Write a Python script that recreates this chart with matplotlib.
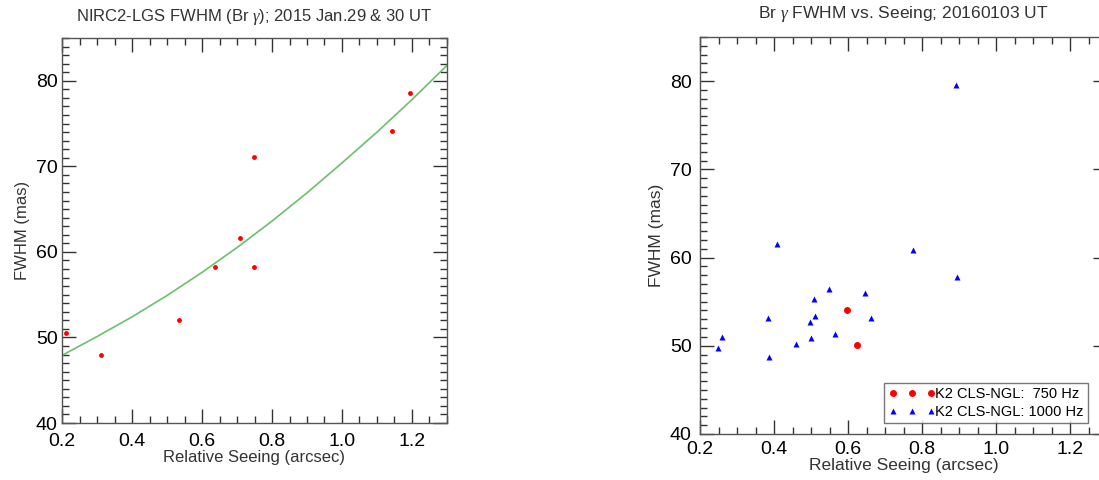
import matplotlib
matplotlib.use("Agg")
import matplotlib.pyplot as plt
from matplotlib.ticker import MultipleLocator, FormatStrFormatter

plt.rcParams['font.family'] = ['Liberation Sans', 'DejaVu Sans']
plt.rcParams['mathtext.fontset'] = 'custom'
plt.rcParams['mathtext.it'] = 'Liberation Serif:italic'

# left panel: 2015 Jan 29 & 30
seeing_2015 = [0.211, 0.312, 0.533, 0.638, 0.708, 0.748, 0.748, 1.143, 1.193]
fwhm_2015 = [50.5, 47.9, 52.0, 58.2, 61.6, 71.1, 58.2, 74.1, 78.6]
# fitted curve
fit_x = [0.2, 0.3, 0.4, 0.5, 0.6, 0.7, 0.8, 0.9, 1.0, 1.1, 1.2, 1.3]
fit_y = [47.9, 50.1, 52.4, 54.9, 57.6, 60.5, 63.6, 66.9, 70.4, 74.0, 77.8, 81.8]

# right panel: 20160103
seeing_750 = [0.597, 0.624]
fwhm_750 = [54.1, 50.1]
seeing_1000 = [0.248, 0.259, 0.385, 0.386, 0.407, 0.460, 0.497, 0.499, 0.508,
               0.511, 0.549, 0.566, 0.647, 0.662, 0.777, 0.891, 0.895]
fwhm_1000 = [49.8, 51.0, 53.1, 48.7, 61.5, 50.2, 52.7, 50.9, 55.3,
             53.4, 56.4, 51.3, 56.0, 53.1, 60.8, 79.6, 57.8]

W, H = 1099, 480
fig = plt.figure(figsize=(W / 100, H / 100), dpi=100)
ax1 = fig.add_axes([62 / W, 1 - 423 / H, 385 / W, 385 / H])
ax2 = fig.add_axes([700 / W, 1 - 434 / H, 407 / W, 397 / H])


def style(ax, fs, lfs, xpad, ypad):
    ax.set_xlim(0.2, 1.3)
    ax.set_ylim(40, 85)
    ax.xaxis.set_major_locator(MultipleLocator(0.2))
    ax.xaxis.set_major_formatter(FormatStrFormatter('%.1f'))
    ax.yaxis.set_major_locator(MultipleLocator(10))
    ax.xaxis.set_minor_locator(MultipleLocator(0.05))
    ax.yaxis.set_minor_locator(MultipleLocator(1))
    ax.tick_params(which='both', direction='in', top=True, right=True,
                   labelsize=fs, width=1.0, color='#333333')
    ax.tick_params(which='major', length=10)
    ax.tick_params(which='minor', length=5)
    ax.tick_params(axis='x', which='major', pad=xpad)
    ax.tick_params(axis='y', which='major', pad=ypad)
    for s in ax.spines.values():
        s.set_color('#555555')
        s.set_linewidth(1.0)
    ax.set_xlabel('Relative Seeing (arcsec)', fontsize=lfs, labelpad=0,
                  color='#333333')
    ax.set_ylabel('FWHM (mas)', fontsize=lfs, color='#333333')


style(ax1, 14, 12, 7, 3)
ax1.plot(fit_x, fit_y, color='#6cbf6c', lw=1.2)
ax1.plot(seeing_2015, fwhm_2015, 'o', color='red', ms=3.5, mec='none')
ax1.set_title(r'NIRC2-LGS FWHM (Br $\gamma$); 2015 Jan.29 & 30 UT',
              fontsize=12, pad=12, color='#333333')

style(ax2, 14, 12.5, 5, 6)
ax2.plot(seeing_750, fwhm_750, 'o', color='red', ms=5, mec='none',
         label='K2 CLS-NGL:  750 Hz')
ax2.plot(seeing_1000, fwhm_1000, '^', color='blue', ms=4, mec='none',
         label='K2 CLS-NGL: 1000 Hz')
ax2.set_title(r'Br $\gamma$ FWHM vs. Seeing; 20160103 UT',
              fontsize=12.5, pad=14, color='#333333')
leg = ax2.legend(loc='lower left', bbox_to_anchor=(184 / 407, 11 / 397),
                 numpoints=3, fontsize=10.5, frameon=True, fancybox=False,
                 handlelength=3.2, handletextpad=0.0, borderpad=0.3,
                 labelspacing=0.25, borderaxespad=0)
leg.get_frame().set_edgecolor('#555555')
leg.get_frame().set_linewidth(1.0)

fig.savefig('out.png', dpi=100)
